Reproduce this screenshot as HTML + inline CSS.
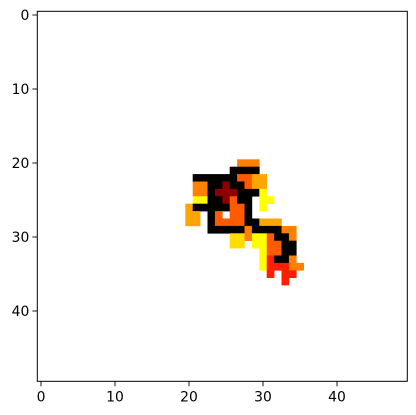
<!DOCTYPE html>
<html><head><meta charset="utf-8"><style>
html,body{margin:0;padding:0;background:#fff;}
svg{display:block;font-family:"DejaVu Sans","Liberation Sans",sans-serif;}
</style></head><body>
<svg id="chart" width="416" height="415" viewBox="0 0 416 415" xmlns="http://www.w3.org/2000/svg">
<rect x="37.3" y="11.3" width="370" height="370" fill="#fff"/>
<g id="cells"></g>
<rect x="37.3" y="11.3" width="370" height="370" fill="none" stroke="#000" stroke-width="1"/>
<g id="xaxis"></g>
<g id="yaxis"></g>
</svg>
<script>
const gridSize = 50;
const rowStart = 20;
const colStart = 20;
const rowCodes = [
".......OOO......",
"......KKKK......",
".KKKKKKNNAA.....",
".OOKKDKKNAA.....",
".OOKDDDKKKY.....",
".YYKKDNKK.YY....",
"AKKKKKNNK.Y.....",
"AA.KN.NNK.......",
"AA.KNNNNKKAAA...",
"...KKKKKOKKKKOO.",
"......GGOYYNKKO.",
"......GG.YYNNKK.",
"..........YNNKK.",
"..........YRKKO.",
"..........YRRROO",
"...........R.RR.",
".............R.."
];
const levelCodes = ["K","D","R","N","O","A","G","Y"];
const levelColors = ["#000000","#8b0000","#ff1e00","#ff5a00","#ff8000","#ffa500","#ffdd00","#ffff00"];
const xTicks = [0,10,20,30,40];
const yTicks = [0,10,20,30,40];

const L=37.3,T=11.3,W=370,H=370;
const cw=W/gridSize, ch=H/gridSize;
const xs=c=>L+c*cw, ys=r=>T+r*ch;
const NS="http://www.w3.org/2000/svg";
const cells=document.getElementById('cells');
rowCodes.forEach((row,ri)=>{
  for(let ci=0;ci<row.length;ci++){
    const k=levelCodes.indexOf(row[ci]);
    if(k<0) continue;
    const r=document.createElementNS(NS,'rect');
    r.setAttribute('x',xs(colStart+ci));
    r.setAttribute('y',ys(rowStart+ri));
    r.setAttribute('width',cw+0.3);
    r.setAttribute('height',ch+0.3);
    r.setAttribute('fill',levelColors[k]);
    
    
    cells.appendChild(r);
  }
});
const xa=document.getElementById('xaxis');
xTicks.forEach(v=>{
  const x=xs(v+0.5);
  const l=document.createElementNS(NS,'line');
  l.setAttribute('x1',x);l.setAttribute('x2',x);l.setAttribute('y1',T+H);l.setAttribute('y2',T+H+4.9);
  l.setAttribute('stroke','#000');l.setAttribute('stroke-width','0.9');
  
  
  xa.appendChild(l);
  const t=document.createElementNS(NS,'text');
  t.setAttribute('x',x);t.setAttribute('y',T+H+20);t.setAttribute('text-anchor','middle');
  t.setAttribute('font-size','13.9');t.textContent=v;
  
  
  xa.appendChild(t);
});
const ya=document.getElementById('yaxis');
yTicks.forEach(v=>{
  const y=ys(v+0.5);
  const l=document.createElementNS(NS,'line');
  l.setAttribute('x1',L-4.9);l.setAttribute('x2',L);l.setAttribute('y1',y);l.setAttribute('y2',y);
  l.setAttribute('stroke','#000');l.setAttribute('stroke-width','0.9');
  
  
  ya.appendChild(l);
  const t=document.createElementNS(NS,'text');
  t.setAttribute('x',L-8);t.setAttribute('y',y+5);t.setAttribute('text-anchor','end');
  t.setAttribute('font-size','13.9');t.textContent=v;
  
  
  ya.appendChild(t);
});
</script>
</body></html>
